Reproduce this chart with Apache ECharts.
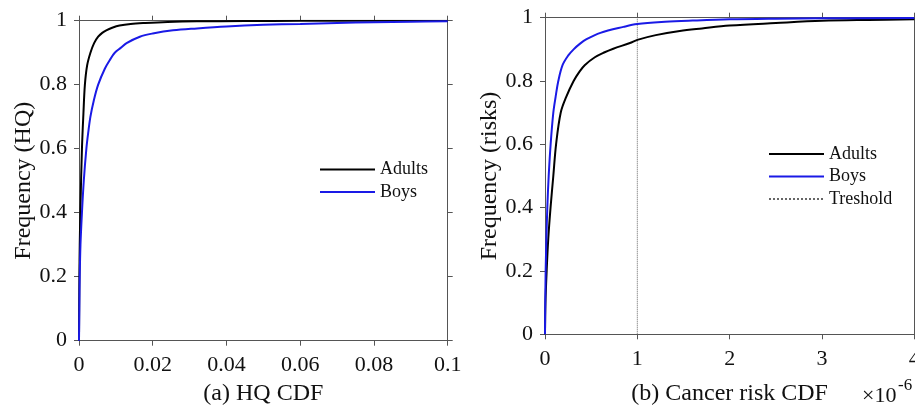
<!DOCTYPE html>
<html>
<head>
<meta charset="utf-8">
<script src="https://cdn.jsdelivr.net/npm/echarts@6/dist/echarts.min.js"></script>
<style>html,body{margin:0;padding:0;background:#fff}#c{width:915px;height:405px}</style>
</head>
<body>
<div id="c"></div>
<script>
// ---- data ----
const hqAdultsX = [0, 0.00005, 0.0001, 0.0002, 0.0004, 0.0008, 0.0012, 0.0016, 0.0022, 0.0031, 0.0041, 0.0052, 0.0063, 0.0074, 0.009, 0.011, 0.014, 0.018, 0.024, 0.032, 0.045, 0.06, 0.08, 0.1];
const hqAdultsY = [0, 0.12, 0.2, 0.3, 0.42, 0.6, 0.71, 0.8, 0.86, 0.9, 0.93, 0.95, 0.962, 0.97, 0.978, 0.985, 0.99, 0.993, 0.996, 0.998, 0.999, 0.9995, 1, 1];
const hqBoysX = [0, 0.0001, 0.0002, 0.0004, 0.0008, 0.0013, 0.002, 0.0025, 0.0031, 0.004, 0.0052, 0.007, 0.0085, 0.0097, 0.0113, 0.0129, 0.0165, 0.02, 0.0255, 0.032, 0.04, 0.05, 0.06, 0.07, 0.08, 0.09, 0.1];
const hqBoysY = [0, 0.1, 0.2, 0.3, 0.4, 0.5, 0.6, 0.65, 0.7, 0.75, 0.8, 0.85, 0.88, 0.9, 0.915, 0.93, 0.95, 0.96, 0.97, 0.976, 0.982, 0.987, 0.99, 0.993, 0.995, 0.997, 0.998];
const riskAdultsX = [0, 0.005, 0.018, 0.035, 0.06, 0.09, 0.12, 0.17, 0.23, 0.31, 0.37, 0.43, 0.54, 0.64, 0.74, 0.92, 1.0, 1.2, 1.46, 1.7, 2.0, 2.5, 3.0, 3.5, 4.0];
const riskAdultsY = [0, 0.1, 0.2, 0.3, 0.4, 0.5, 0.6, 0.7, 0.75, 0.8, 0.828, 0.85, 0.875, 0.89, 0.902, 0.92, 0.93, 0.945, 0.958, 0.966, 0.975, 0.983, 0.99, 0.993, 0.995];
const riskBoysX = [0, 0.002, 0.007, 0.015, 0.025, 0.04, 0.061, 0.09, 0.115, 0.144, 0.19, 0.25, 0.31, 0.38, 0.45, 0.6, 0.85, 1.0, 1.3, 1.6, 2.0, 2.5, 3.0, 4.0];
const riskBoysY = [0, 0.08, 0.2, 0.3, 0.4, 0.5, 0.6, 0.7, 0.75, 0.8, 0.85, 0.88, 0.9, 0.918, 0.932, 0.952, 0.971, 0.98, 0.987, 0.991, 0.995, 0.997, 0.998, 0.999];
const thresholdX = [1, 1];
const thresholdY = [0, 1];
const seriesNames = ['Adults', 'Boys', 'Treshold'];
const xNames = ['(a) HQ CDF', '(b) Cancer risk CDF'];
const yNames = ['Frequency (HQ)', 'Frequency (risks)'];
const exponentBase = '×10';
const exponentPow = '-6';

const zip = (xs, ys) => xs.map((x, i) => [x, ys[i]]);

const FONT = 'Liberation Serif';
const AX = '#555';
const TXT = '#111';
const BLUE = '#1a1ae6';

function xAx(gi, min, max, interval, name, nameGap, margin) {
  return [{
    gridIndex: gi, type: 'value', min, max, interval, position: 'bottom',
    name, nameLocation: 'middle', nameGap,
    nameTextStyle: { fontFamily: FONT, fontSize: 24, color: TXT },
    axisLine: { onZero: false, lineStyle: { color: AX, width: 1 } },
    axisTick: { show: true, length: 5, lineStyle: { color: AX } },
    axisLabel: { fontFamily: FONT, fontSize: 22, color: TXT, margin },
    splitLine: { show: false }
  }, {
    gridIndex: gi, type: 'value', min, max, interval, position: 'top',
    axisLine: { onZero: false, lineStyle: { color: AX, width: 1 } },
    axisTick: { show: true, length: 5, lineStyle: { color: AX } },
    axisLabel: { show: false }, splitLine: { show: false }
  }];
}
function yAx(gi, name) {
  return [{
    gridIndex: gi, type: 'value', min: 0, max: 1, interval: 0.2, position: 'left',
    name, nameLocation: 'middle', nameGap: 43, nameRotate: 90,
    nameTextStyle: { fontFamily: FONT, fontSize: 24, color: TXT },
    axisLine: { show: true, onZero: false, lineStyle: { color: AX, width: 1 } },
    axisTick: { show: true, length: 5, lineStyle: { color: AX } },
    axisLabel: { fontFamily: FONT, fontSize: 22, color: TXT, margin: 12 },
    splitLine: { show: false }
  }, {
    gridIndex: gi, type: 'value', min: 0, max: 1, interval: 0.2, position: 'right',
    axisLine: { show: true, onZero: false, lineStyle: { color: AX, width: 1 } },
    axisTick: { show: true, length: 5, lineStyle: { color: AX } },
    axisLabel: { show: false }, splitLine: { show: false }
  }];
}

function line(name, xi, yi, data, color, width, type) {
  return {
    name, type: 'line', xAxisIndex: xi, yAxisIndex: yi, data,
    symbol: 'none', smooth: 0.35, silent: true,
    lineStyle: { color, width, type: type || 'solid' }, itemStyle: { color },
    z: 3
  };
}

const legendBase = {
  orient: 'vertical', itemWidth: 55, itemHeight: 14, itemGap: 4.5, padding: 0,
  itemStyle: { opacity: 0 },
  textStyle: { fontFamily: FONT, fontSize: 18, color: TXT, lineHeight: 18 },
  selectedMode: false
};

const chart = echarts.init(document.getElementById('c'), null, { renderer: 'canvas' });
chart.setOption({
  animation: false,
  backgroundColor: '#fff',
  grid: [
    { left: 79, top: 20.7, right: 467.3, bottom: 64.3, containLabel: false, outerBoundsMode: 'none' },
    { left: 545, top: 17.7, right: 0.7, bottom: 70.7, containLabel: false, outerBoundsMode: 'none' }
  ],
  xAxis: [
    ...xAx(0, 0, 0.1, 0.02, xNames[0], 40, 14),
    ...xAx(1, 0, 4, 1, xNames[1], 47, 14)
  ],
  yAxis: [
    ...yAx(0, yNames[0]),
    ...yAx(1, yNames[1])
  ],
  legend: [
    Object.assign({}, legendBase, { left: 319, top: 160.5, data: [seriesNames[0], seriesNames[1]] }),
    Object.assign({}, legendBase, { left: 768, top: 145, data: [seriesNames[0], seriesNames[1], seriesNames[2]] })
  ],
  series: [
    line(seriesNames[0], 0, 0, zip(hqAdultsX, hqAdultsY), '#000', 2),
    line(seriesNames[1], 0, 0, zip(hqBoysX, hqBoysY), BLUE, 2),
    Object.assign(line(seriesNames[2], 2, 2, zip(thresholdX, thresholdY), '#666', 1, 'dotted'), { smooth: false, z: 2 }),
    line(seriesNames[0], 2, 2, zip(riskAdultsX, riskAdultsY), '#000', 2),
    line(seriesNames[1], 2, 2, zip(riskBoysX, riskBoysY), BLUE, 2)
  ],
  graphic: [
    { type: 'text', left: 862, top: 385, style: { text: exponentBase, font: '22px "Liberation Serif"', fill: TXT } },
    { type: 'text', left: 898, top: 377, style: { text: exponentPow, font: '17px "Liberation Serif"', fill: TXT } }
  ]
});
</script>
</body>
</html>
